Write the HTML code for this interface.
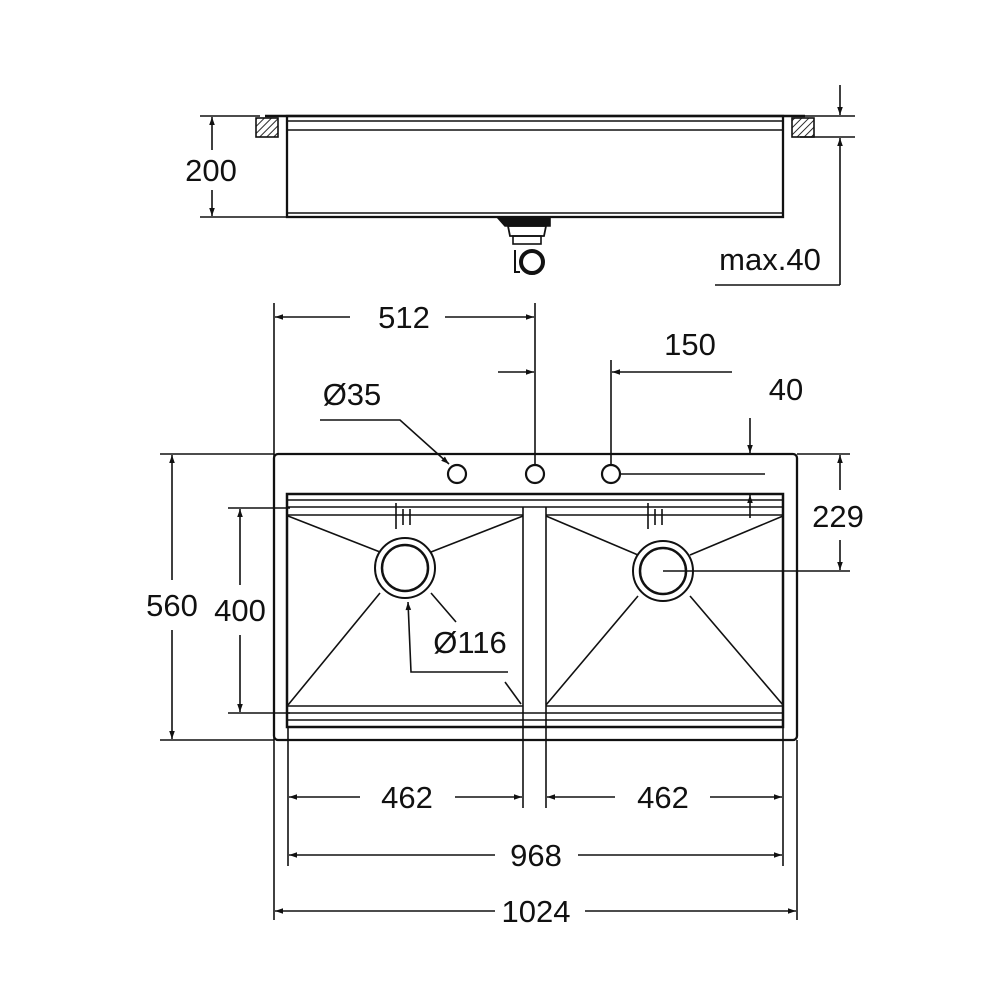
<!DOCTYPE html>
<html><head><style>body{margin:0;background:#fff}svg{display:block}text{font-family:"Liberation Sans",sans-serif;font-size:31px;fill:#111;text-anchor:middle}</style></head>
<body>
<svg width="1000" height="1000" viewBox="0 0 1000 1000" xmlns="http://www.w3.org/2000/svg">
<defs>
<marker id="a" viewBox="0 0 10 10" refX="10" refY="5" markerWidth="13" markerHeight="8" orient="auto-start-reverse" markerUnits="userSpaceOnUse"><path d="M0,1.5L10,5L0,8.5z" fill="#111"/></marker>
<pattern id="h" width="5" height="5" patternUnits="userSpaceOnUse" patternTransform="rotate(45)"><line x1="0" y1="0" x2="0" y2="5" stroke="#111" stroke-width="1.8"/></pattern>
</defs>
<g stroke="#111" fill="none" stroke-width="1.6">
<line x1="265" y1="116" x2="805" y2="116" stroke-width="2.5"/>
<rect x="287" y="116" width="496" height="101" stroke-width="2.3"/>
<line x1="287" y1="121" x2="783" y2="121"/><line x1="287" y1="130" x2="783" y2="130"/>
<line x1="287" y1="213" x2="783" y2="213"/>
<rect x="256" y="118" width="22" height="19" fill="url(#h)"/>
<rect x="792" y="118" width="22" height="19" fill="url(#h)"/>
<path d="M498,218h52v8h-45z" fill="#111"/>
<path d="M508,226h38l-2,10h-34z" stroke-width="1.8"/>
<rect x="513" y="236" width="28" height="8"/>
<circle cx="532" cy="262" r="11" stroke-width="4"/>
<path d="M515,250v22h5" stroke-width="2"/>
<line x1="200" y1="116" x2="260" y2="116"/><line x1="200" y1="217" x2="287" y2="217"/>
<line x1="212" y1="150" x2="212" y2="117" marker-end="url(#a)"/><line x1="212" y1="190" x2="212" y2="216" marker-end="url(#a)"/>
<line x1="800" y1="116" x2="855" y2="116"/><line x1="800" y1="137" x2="855" y2="137"/>
<line x1="840" y1="85" x2="840" y2="115" marker-end="url(#a)"/>
<line x1="840" y1="285" x2="840" y2="138" marker-end="url(#a)"/>
<line x1="715" y1="285" x2="840" y2="285"/>
<rect x="274" y="454" width="523" height="286" rx="4" stroke-width="2.3"/>
<rect x="287" y="494" width="496" height="233" stroke-width="2.5"/>
<line x1="287" y1="500" x2="783" y2="500"/><line x1="287" y1="507" x2="783" y2="507"/><line x1="287" y1="515" x2="523" y2="515"/><line x1="546" y1="515" x2="783" y2="515"/>
<line x1="287" y1="706" x2="523" y2="706"/><line x1="546" y1="706" x2="783" y2="706"/>
<line x1="287" y1="713" x2="783" y2="713"/><line x1="287" y1="720" x2="783" y2="720"/>
<line x1="523" y1="507" x2="523" y2="808"/><line x1="546" y1="507" x2="546" y2="808"/>
<path d="M396,503v26M403,509v16M410,509v16M648,503v26M655,509v16M662,509v16"/>
<circle cx="405" cy="568" r="30" stroke-width="2"/><circle cx="405" cy="568" r="23" stroke-width="2.5"/>
<circle cx="663" cy="571" r="30" stroke-width="2"/><circle cx="663" cy="571" r="23" stroke-width="2.5"/>
<path d="M288,516L380,552M523,516L431,552M288,705L380,593M546,516L638,555M783,516L690,555M546,705L638,596M783,705L690,596M431,593L456,622"/>
<circle cx="457" cy="474" r="9" stroke-width="2.2"/><circle cx="535" cy="474" r="9" stroke-width="2.2"/><circle cx="611" cy="474" r="9" stroke-width="2.2"/>
<line x1="274" y1="303" x2="274" y2="920"/><line x1="535" y1="303" x2="535" y2="465"/>
<line x1="350" y1="317" x2="275" y2="317" marker-end="url(#a)"/><line x1="445" y1="317" x2="534" y2="317" marker-end="url(#a)"/>
<line x1="611" y1="360" x2="611" y2="465"/>
<line x1="498" y1="372" x2="534" y2="372" marker-end="url(#a)"/><line x1="732" y1="372" x2="612" y2="372" marker-end="url(#a)"/>
<line x1="750" y1="418" x2="750" y2="453" marker-end="url(#a)"/><line x1="750" y1="518" x2="750" y2="495" marker-end="url(#a)"/>
<line x1="620" y1="474" x2="765" y2="474"/>
<line x1="797" y1="454" x2="850" y2="454"/><line x1="663" y1="571" x2="850" y2="571"/>
<line x1="840" y1="490" x2="840" y2="455" marker-end="url(#a)"/><line x1="840" y1="540" x2="840" y2="570" marker-end="url(#a)"/>
<line x1="160" y1="454" x2="274" y2="454"/><line x1="160" y1="740" x2="274" y2="740"/>
<line x1="172" y1="580" x2="172" y2="455" marker-end="url(#a)"/><line x1="172" y1="630" x2="172" y2="739" marker-end="url(#a)"/>
<line x1="228" y1="508" x2="290" y2="508"/><line x1="228" y1="713" x2="290" y2="713"/>
<line x1="240" y1="585" x2="240" y2="509" marker-end="url(#a)"/><line x1="240" y1="635" x2="240" y2="712" marker-end="url(#a)"/>
<path d="M320,420H400L449,464" marker-end="url(#a)"/>
<path d="M508,672H411L408,602" marker-end="url(#a)"/>
<line x1="505" y1="682" x2="521" y2="704"/>
<line x1="288" y1="727" x2="288" y2="866"/><line x1="783" y1="727" x2="783" y2="866"/><line x1="797" y1="740" x2="797" y2="920"/>
<line x1="360" y1="797" x2="289" y2="797" marker-end="url(#a)"/><line x1="455" y1="797" x2="522" y2="797" marker-end="url(#a)"/>
<line x1="615" y1="797" x2="547" y2="797" marker-end="url(#a)"/><line x1="710" y1="797" x2="782" y2="797" marker-end="url(#a)"/>
<line x1="495" y1="855" x2="289" y2="855" marker-end="url(#a)"/><line x1="578" y1="855" x2="782" y2="855" marker-end="url(#a)"/>
<line x1="495" y1="911" x2="275" y2="911" marker-end="url(#a)"/><line x1="585" y1="911" x2="796" y2="911" marker-end="url(#a)"/>
</g>
<text x="211" y="181">200</text>
<text x="770" y="270">max.40</text>
<text x="404" y="328">512</text>
<text x="690" y="355">150</text>
<text x="786" y="400">40</text>
<text x="352" y="405">Ø35</text>
<text x="838" y="527">229</text>
<text x="172" y="616">560</text>
<text x="240" y="621">400</text>
<text x="470" y="653">Ø116</text>
<text x="407" y="808">462</text>
<text x="663" y="808">462</text>
<text x="536" y="866">968</text>
<text x="536" y="922">1024</text>
</svg>
</body></html>
